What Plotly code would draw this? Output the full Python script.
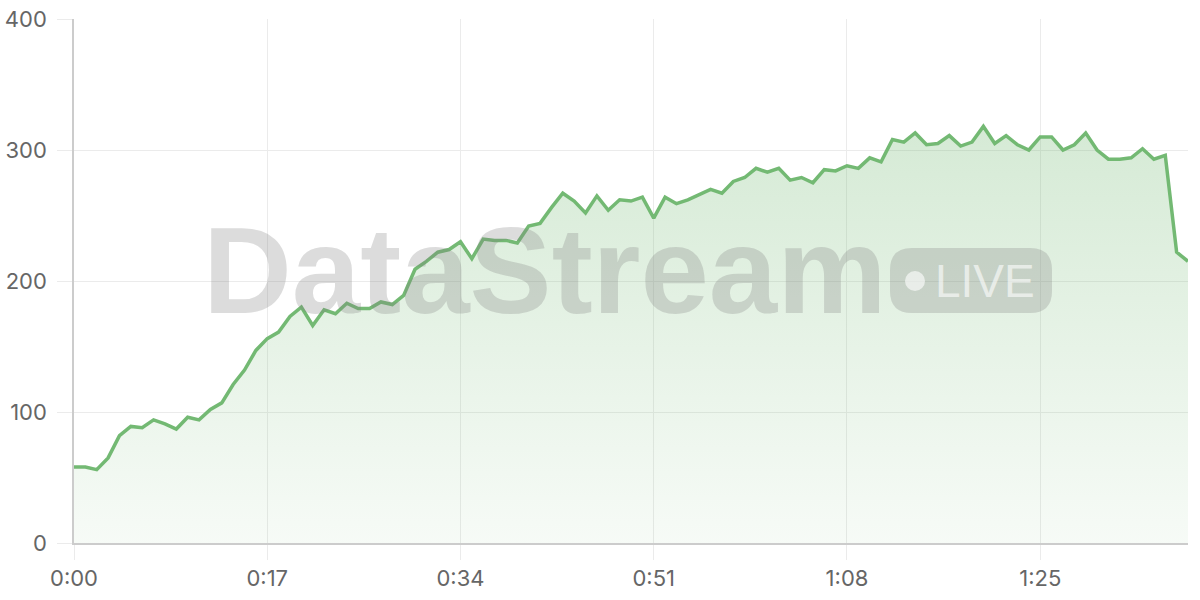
import plotly.graph_objects as go

# seconds since start, one sample per second
seconds = list(range(99))
values = [
    58, 58, 56, 65, 82, 89, 88, 94, 91, 87,
    96, 94, 102, 107, 121, 132, 147, 156, 161, 173,
    180, 166, 178, 175, 183, 179, 179, 184, 182, 189,
    209, 215, 222, 224, 230, 217, 232, 231, 231, 229,
    242, 244, 256, 267, 261, 252, 265, 254, 262, 261,
    264, 248, 264, 259, 262, 266, 270, 267, 276, 279,
    286, 283, 286, 277, 279, 275, 285, 284, 288, 286,
    294, 291, 308, 306, 313, 304, 305, 311, 303, 306,
    318, 305, 311, 304, 300, 310, 310, 300, 304, 313,
    300, 293, 293, 294, 301, 293, 296, 222, 215,
]
tick_secs = [0, 17, 34, 51, 68, 85]
tick_text = ["0:00", "0:17", "0:34", "0:51", "1:08", "1:25"]

GREEN = "rgb(115,185,115)"
GRID = "#ebebeb"
WM = "rgba(128,128,128,0.28)"

# plot area in pixels, used to place the watermark
L, R, T, B = 74, 1188, 19, 543


def px(x, y):
    return (x - L) / (R - L), (B - y) / (B - T)


def pill(x0, y0, x1, y1, r):
    def p(x, y):
        a, b = px(x, y)
        return f"{a:.5f},{b:.5f}"
    return (f"M {p(x0 + r, y0)} L {p(x1 - r, y0)} Q {p(x1, y0)} {p(x1, y0 + r)} "
            f"L {p(x1, y1 - r)} Q {p(x1, y1)} {p(x1 - r, y1)} "
            f"L {p(x0 + r, y1)} Q {p(x0, y1)} {p(x0, y1 - r)} "
            f"L {p(x0, y0 + r)} Q {p(x0, y0)} {p(x0 + r, y0)} Z")


fig = go.Figure()
fig.add_trace(go.Scatter(
    x=seconds, y=values, mode="lines",
    line=dict(color=GREEN, width=3.5),
    fill="tozeroy",
    fillgradient=dict(type="vertical", start=0, stop=320,
                      colorscale=[[0, "rgba(115,185,115,0.06)"],
                                  [1, "rgba(115,185,115,0.30)"]]),
    hoverinfo="skip", showlegend=False,
))

# watermark
cx, cy = px(545, 270)
fig.add_annotation(text="<b>DataStream</b>", x=cx, y=cy, xref="paper", yref="paper",
                   showarrow=False, xanchor="center", yanchor="middle",
                   font=dict(family="Liberation Sans", size=123, color=WM))
fig.add_shape(type="path", path=pill(890, 248, 1052, 313, 22), xref="paper", yref="paper",
              fillcolor=WM, line=dict(width=0), layer="above")
d0 = px(905, 271)
d1 = px(925, 291)
fig.add_shape(type="circle", x0=d0[0], y0=d0[1], x1=d1[0], y1=d1[1], xref="paper", yref="paper",
              fillcolor="rgba(255,255,255,0.6)", line=dict(width=0), layer="above")
lx, ly = px(985, 281)
fig.add_annotation(text="LIVE", x=lx, y=ly, xref="paper", yref="paper",
                   showarrow=False, xanchor="center", yanchor="middle",
                   font=dict(family="Liberation Sans", size=46, color="rgba(255,255,255,0.6)"))

fig.update_xaxes(range=[0, 98], tickvals=tick_secs, ticktext=tick_text,
                 showgrid=True, gridcolor=GRID, gridwidth=1,
                 ticks="outside", ticklen=15, tickcolor=GRID,
                 ticklabelstandoff=0, automargin=False,
                 showline=True, linecolor="#cccccc", linewidth=1.5,
                 zeroline=False, tickfont=dict(size=22, color="#666666"))
fig.update_yaxes(range=[0, 400], tickvals=[0, 100, 200, 300, 400],
                 showgrid=True, gridcolor=GRID, gridwidth=1,
                 ticks="outside", ticklen=15, tickcolor=GRID,
                 ticklabelstandoff=6, automargin=False,
                 showline=True, linecolor="#cccccc", linewidth=1.5,
                 zeroline=False, tickfont=dict(size=22, color="#666666"))
fig.update_layout(width=1200, height=600,
                  margin=dict(l=L, r=1200 - R, t=T, b=600 - B),
                  plot_bgcolor="white", paper_bgcolor="white",
                  font=dict(family="Inter"))

# drop the default body margin so the figure fills the window
fig.write_html("out.html", config={"displayModeBar": False},
               post_script="document.body.style.margin='0';")
